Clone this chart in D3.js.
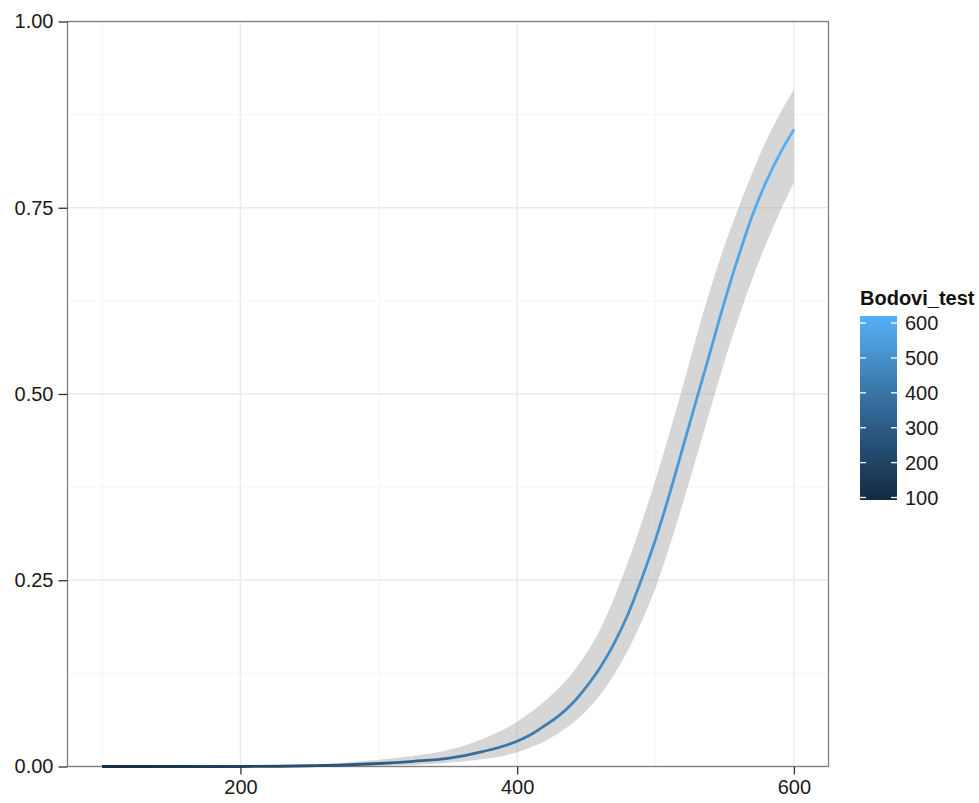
<!DOCTYPE html>
<html>
<head>
<meta charset="utf-8">
<script src="https://cdn.jsdelivr.net/npm/d3@7"></script>
<style>
  body { margin: 0; background: #fff; }
  svg text { font-family: Arial, "Liberation Sans", sans-serif; }
</style>
</head>
<body>
<svg id="chart" width="979" height="803"></svg>
<script>
// values
var bodovi = [100, 150, 200, 250, 275, 300, 325, 350, 375, 400, 410, 420, 430, 440, 450, 460, 470, 480, 490, 500, 510, 520, 530, 540, 550, 560, 570, 580, 590, 600];
var fitted = [0.000, 0.000, 0.000, 0.001, 0.002, 0.004, 0.007, 0.011, 0.020, 0.034, 0.043, 0.055, 0.068, 0.085, 0.107, 0.133, 0.165, 0.204, 0.252, 0.305, 0.365, 0.430, 0.495, 0.560, 0.625, 0.685, 0.740, 0.785, 0.823, 0.855];
var upper  = [0.000, 0.000, 0.000, 0.002, 0.005, 0.009, 0.014, 0.022, 0.037, 0.060, 0.073, 0.088, 0.105, 0.126, 0.152, 0.184, 0.226, 0.274, 0.328, 0.385, 0.447, 0.512, 0.580, 0.643, 0.700, 0.750, 0.797, 0.840, 0.877, 0.908];
var lower  = [0.000, 0.000, 0.000, 0.000, 0.000, 0.001, 0.002, 0.005, 0.010, 0.019, 0.026, 0.034, 0.045, 0.058, 0.075, 0.096, 0.123, 0.156, 0.195, 0.240, 0.295, 0.355, 0.418, 0.482, 0.545, 0.602, 0.655, 0.702, 0.745, 0.784];

var xTicks = [200, 400, 600];
var xMinor = [100, 300, 500];
var yTicks = [0, 0.25, 0.5, 0.75, 1];
var yMinor = [0.125, 0.375, 0.625, 0.875];
var legendTicks = [100, 200, 300, 400, 500, 600];
var legendTitle = "Bodovi_test";
var lowColor = "#132B43", highColor = "#56B1F7";

var data = bodovi.map(function(b, i) {
    return { x: b, y: fitted[i], lo: lower[i], hi: upper[i] };
});

var panel = { left: 67.5, right: 828.5, top: 21.5, bottom: 766.5 };

var x = d3.scaleLinear()
    .domain([75, 625])
    .range([panel.left, panel.right]);
var y = d3.scaleLinear()
    .domain([0, 1])
    .range([panel.bottom, panel.top]);
var color = d3.scaleLinear()
    .domain([100, 600])
    .range([lowColor, highColor])
    .interpolate(d3.interpolateLab);

var svg = d3.select("#chart");
var defs = svg.append("defs");

// gradient following the x position for the line
var lineGrad = defs.append("linearGradient")
    .attr("id", "lineGrad")
    .attr("gradientUnits", "userSpaceOnUse")
    .attr("x1", x(100)).attr("x2", x(600))
    .attr("y1", 0).attr("y2", 0);
d3.range(0, 1.0001, 0.1).forEach(function(t) {
    lineGrad.append("stop")
        .attr("offset", t)
        .attr("stop-color", color(100 + t * 500));
});

// grid
var grid = svg.append("g");
grid.selectAll(".xminor").data(xMinor).enter().append("line")
    .attr("x1", function(d) { return x(d); }).attr("x2", function(d) { return x(d); })
    .attr("y1", panel.top).attr("y2", panel.bottom)
    .attr("stroke", "#F7F7F7").attr("stroke-width", 1.2);
grid.selectAll(".yminor").data(yMinor).enter().append("line")
    .attr("y1", function(d) { return y(d); }).attr("y2", function(d) { return y(d); })
    .attr("x1", panel.left).attr("x2", panel.right)
    .attr("stroke", "#F7F7F7").attr("stroke-width", 1.2);
grid.selectAll(".xmajor").data(xTicks).enter().append("line")
    .attr("x1", function(d) { return x(d); }).attr("x2", function(d) { return x(d); })
    .attr("y1", panel.top).attr("y2", panel.bottom)
    .attr("stroke", "#EBEBEB").attr("stroke-width", 1.5);
grid.selectAll(".ymajor").data(yTicks).enter().append("line")
    .attr("y1", function(d) { return y(d); }).attr("y2", function(d) { return y(d); })
    .attr("x1", panel.left).attr("x2", panel.right)
    .attr("stroke", "#EBEBEB").attr("stroke-width", 1.5);

// confidence ribbon
var area = d3.area()
    .curve(d3.curveMonotoneX)
    .x(function(d) { return x(d.x); })
    .y0(function(d) { return y(d.lo); })
    .y1(function(d) { return y(d.hi); });
svg.append("path")
    .datum(data)
    .attr("d", area)
    .attr("fill", "#999999")
    .attr("fill-opacity", 0.4);

// panel border
svg.append("rect")
    .attr("x", panel.left).attr("y", panel.top)
    .attr("width", panel.right - panel.left)
    .attr("height", panel.bottom - panel.top)
    .attr("fill", "none")
    .attr("stroke", "#7F7F7F")
    .attr("stroke-width", 1.3);

// fitted line
var line = d3.line()
    .curve(d3.curveMonotoneX)
    .x(function(d) { return x(d.x); })
    .y(function(d) { return y(d.y); });
svg.append("path")
    .datum(data)
    .attr("d", line)
    .attr("fill", "none")
    .attr("stroke", "url(#lineGrad)")
    .attr("stroke-width", 2.8)
    .attr("stroke-linejoin", "round");

// axes
var xAxis = svg.append("g")
    .attr("transform", "translate(0," + panel.bottom + ")")
    .call(d3.axisBottom(x).tickValues(xTicks).tickSize(8).tickPadding(5).tickFormat(d3.format("d")));
var yAxis = svg.append("g")
    .attr("transform", "translate(" + panel.left + ",0)")
    .call(d3.axisLeft(y).tickValues(yTicks).tickSize(9).tickPadding(5).tickFormat(d3.format(".2f")));
[xAxis, yAxis].forEach(function(ax) {
    ax.select(".domain").remove();
    ax.selectAll(".tick line").attr("stroke", "#333").attr("stroke-width", 1.3);
    ax.selectAll(".tick text")
        .attr("fill", "#1a1a1a")
        .attr("font-size", 20)
        .attr("font-family", "Arial, 'Liberation Sans', sans-serif");
});

// colour bar legend
var bar = { x: 860, y: 316, w: 37, h: 184 };
var barGrad = defs.append("linearGradient")
    .attr("id", "barGrad")
    .attr("x1", 0).attr("x2", 0).attr("y1", 1).attr("y2", 0);
d3.range(0, 1.0001, 0.1).forEach(function(t) {
    barGrad.append("stop")
        .attr("offset", t)
        .attr("stop-color", color(100 + t * 500));
});
var legend = svg.append("g");
legend.append("text")
    .attr("x", 860).attr("y", 305)
    .attr("font-size", 20)
    .attr("font-weight", "bold")
    .attr("fill", "#111")
    .text(legendTitle);
legend.append("rect")
    .attr("x", bar.x).attr("y", bar.y)
    .attr("width", bar.w).attr("height", bar.h)
    .attr("fill", "url(#barGrad)");

var ly = d3.scaleLinear().domain([100, 600]).range([497.5, 323]);
legend.selectAll(".lt").data(legendTicks).enter().append("g")
    .each(function(d) {
        var g = d3.select(this);
        g.append("line")
            .attr("x1", bar.x).attr("x2", bar.x + 6)
            .attr("y1", ly(d)).attr("y2", ly(d))
            .attr("stroke", "#fff").attr("stroke-width", 1.3);
        g.append("line")
            .attr("x1", bar.x + bar.w - 6).attr("x2", bar.x + bar.w)
            .attr("y1", ly(d)).attr("y2", ly(d))
            .attr("stroke", "#fff").attr("stroke-width", 1.3);
        g.append("text")
            .attr("x", 905).attr("y", ly(d))
            .attr("dy", "0.35em")
            .attr("font-size", 20)
            .attr("fill", "#1a1a1a")
            .text(d);
    });
</script>
</body>
</html>
